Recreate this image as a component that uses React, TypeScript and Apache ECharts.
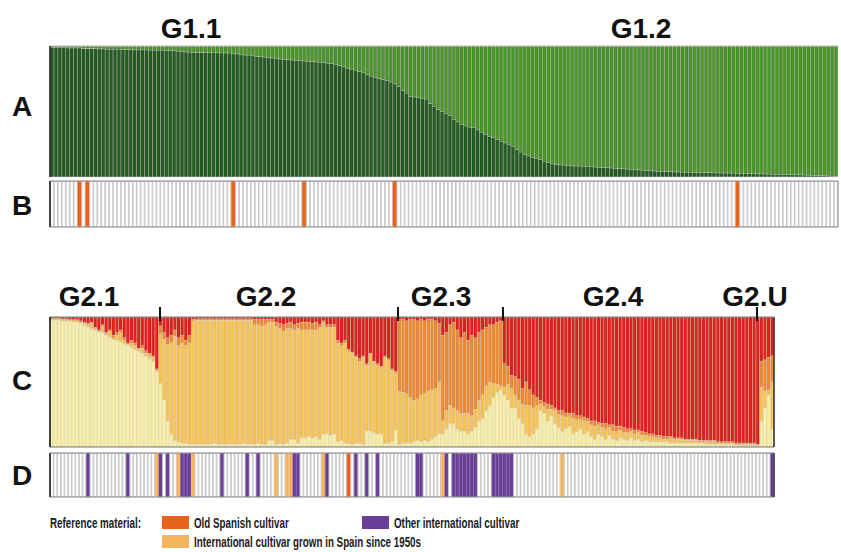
import React, { useEffect, useRef } from "react";
import * as echarts from "echarts";

const N = 200;
const sampleIds: string[] = Array.from({ length: N }, (_, i) => `S${i + 1}`);

// Panel A: membership in G1.1 (dark green); remainder is G1.2 (light green)
const darkGreenA = [
  0.99, 0.99, 0.99, 0.99, 0.985, 0.985, 0.985, 0.985, 0.98, 0.98, 0.98, 0.98, 0.978, 0.978, 0.975, 0.975, 0.975, 0.975, 0.972, 0.972,
  0.972, 0.97, 0.97, 0.97, 0.97, 0.968, 0.968, 0.968, 0.968, 0.966, 0.966, 0.966, 0.96, 0.958, 0.955, 0.952, 0.95, 0.95, 0.95, 0.95,
  0.948, 0.948, 0.948, 0.947, 0.947, 0.946, 0.94, 0.94, 0.935, 0.93, 0.93, 0.925, 0.92, 0.918, 0.915, 0.912, 0.908, 0.905, 0.9, 0.898,
  0.895, 0.892, 0.89, 0.888, 0.885, 0.882, 0.88, 0.878, 0.875, 0.872, 0.868, 0.865, 0.86, 0.85, 0.84, 0.83, 0.824, 0.815, 0.805, 0.795,
  0.78, 0.77, 0.76, 0.75, 0.743, 0.735, 0.725, 0.71, 0.69, 0.66, 0.64, 0.615, 0.61, 0.605, 0.6, 0.595, 0.56, 0.54, 0.514, 0.5,
  0.485, 0.468, 0.44, 0.42, 0.4, 0.39, 0.38, 0.376, 0.36, 0.34, 0.323, 0.31, 0.3, 0.285, 0.272, 0.26, 0.245, 0.234, 0.21, 0.19,
  0.17, 0.16, 0.15, 0.14, 0.132, 0.12, 0.109, 0.1, 0.095, 0.092, 0.09, 0.086, 0.085, 0.084, 0.083, 0.082, 0.081, 0.08, 0.075, 0.073,
  0.072, 0.07, 0.068, 0.066, 0.064, 0.062, 0.06, 0.058, 0.056, 0.054, 0.052, 0.05, 0.048, 0.045, 0.043, 0.042, 0.041, 0.04, 0.039, 0.038,
  0.037, 0.036, 0.036, 0.035, 0.035, 0.034, 0.033, 0.033, 0.032, 0.031, 0.03, 0.03, 0.03, 0.029, 0.028, 0.027, 0.027, 0.026, 0.025, 0.024,
  0.024, 0.023, 0.022, 0.021, 0.02, 0.02, 0.019, 0.018, 0.017, 0.017, 0.016, 0.015, 0.014, 0.013, 0.012, 0.01, 0.009, 0.008, 0.006, 0.005,
];

// Panel B: positions of old Spanish cultivars (reference material)
const oldSpanishB = [7, 9, 46, 64, 87, 174];

// Panel C: memberships (pale yellow = G2.1, orange = G2.3, red = G2.4; light orange G2.2 is the remainder)
const yellowC = [
  0.975, 0.975, 0.975, 0.97, 0.97, 0.97, 0.965, 0.96, 0.95, 0.94,
  0.925, 0.91, 0.9, 0.89, 0.88, 0.86, 0.846, 0.83, 0.82, 0.81,
  0.795, 0.785, 0.77, 0.75, 0.735, 0.72, 0.7, 0.68, 0.66, 0.58,
  0.49, 0.36, 0.2, 0.1, 0.05, 0.04, 0.03, 0.03, 0.02, 0.02,
  0.02, 0.02, 0.02, 0.02, 0.02, 0.03, 0.02, 0.02, 0.02, 0.02,
  0.02, 0.02, 0.02, 0.03, 0.02, 0.02, 0.02, 0.03, 0.02, 0.02,
  0.05, 0.05, 0.02, 0.03, 0.02, 0.03, 0.06, 0.06, 0.03, 0.07,
  0.07, 0.08, 0.07, 0.08, 0.06, 0.1, 0.1, 0.09, 0.1, 0.04,
  0.05, 0.03, 0.03, 0.02, 0.03, 0.03, 0.02, 0.12, 0.12, 0.11,
  0.1, 0.1, 0.03, 0.03, 0.04, 0.13, 0.02, 0.03, 0.03, 0.03,
  0.04, 0.05, 0.04, 0.05, 0.04, 0.06, 0.08, 0.1, 0.1, 0.14,
  0.18, 0.18, 0.14, 0.12, 0.12, 0.1, 0.12, 0.15, 0.2, 0.22,
  0.28, 0.32, 0.38, 0.42, 0.44, 0.4, 0.36, 0.3, 0.3, 0.22,
  0.18, 0.1, 0.08, 0.1, 0.14, 0.28, 0.26, 0.2, 0.24, 0.18,
  0.15, 0.12, 0.14, 0.16, 0.1, 0.12, 0.14, 0.1, 0.12, 0.08,
  0.06, 0.1, 0.08, 0.06, 0.09, 0.06, 0.05, 0.07, 0.06, 0.05,
  0.07, 0.05, 0.06, 0.04, 0.05, 0.04, 0.04, 0.04, 0.04, 0.04,
  0.04, 0.03, 0.03, 0.03, 0.03, 0.03, 0.03, 0.03, 0.03, 0.03,
  0.03, 0.02, 0.02, 0.02, 0.02, 0.02, 0.02, 0.02, 0.02, 0.02,
  0.02, 0.01, 0.01, 0.01, 0.01, 0.01, 0.2, 0.3, 0.4, 0.14,
];
const orangeC = [
  0, 0, 0, 0, 0, 0, 0, 0, 0.01, 0.01,
  0.01, 0.01, 0.01, 0.01, 0.01, 0.01, 0.01, 0.02, 0.02, 0.02,
  0.02, 0.01, 0.02, 0.02, 0.01, 0.02, 0.02, 0.01, 0.01, 0.01,
  0.06, 0.05, 0.05, 0.06, 0.05, 0.06, 0.06, 0.04, 0.06, 0.01,
  0.01, 0.01, 0.01, 0.01, 0.01, 0.01, 0.01, 0.01, 0.01, 0.01,
  0.01, 0.01, 0.01, 0.01, 0.01, 0.01, 0.04, 0.04, 0.05, 0.04,
  0.02, 0.02, 0.03, 0.04, 0.05, 0.04, 0.05, 0.04, 0.04, 0.06,
  0.06, 0.06, 0.05, 0.06, 0.02, 0.01, 0.02, 0.02, 0.02, 0.02,
  0.02, 0.02, 0.01, 0.01, 0.01, 0.02, 0.01, 0.01, 0.01, 0.01,
  0.01, 0.01, 0.01, 0.01, 0.01, 0.01, 0.55, 0.56, 0.56, 0.6,
  0.62, 0.6, 0.58, 0.56, 0.55, 0.54, 0.52, 0.45, 0.66, 0.6,
  0.62, 0.66, 0.62, 0.58, 0.62, 0.56, 0.62, 0.55, 0.52, 0.5,
  0.45, 0.44, 0.45, 0.48, 0.5, 0.18, 0.14, 0.1, 0.14, 0.16,
  0.12, 0.18, 0.12, 0.1, 0.06, 0.03, 0.03, 0.04, 0.03, 0.02,
  0.03, 0.04, 0.03, 0.02, 0.04, 0.03, 0.03, 0.03, 0.02, 0.03,
  0.04, 0.02, 0.03, 0.04, 0.02, 0.05, 0.04, 0.03, 0.04, 0.03,
  0.02, 0.03, 0.02, 0.03, 0.02, 0.02, 0.02, 0.02, 0.02, 0.02,
  0.02, 0.01, 0.01, 0.01, 0.01, 0.01, 0.01, 0.01, 0.01, 0.01,
  0.01, 0.01, 0.01, 0.01, 0.01, 0.01, 0.01, 0.01, 0.01, 0.01,
  0.01, 0.01, 0.01, 0.01, 0.01, 0.005, 0.2, 0.24, 0.25, 0.2,
];
const redC = [
  0.01, 0.01, 0.01, 0.015, 0.015, 0.02, 0.02, 0.02, 0.03, 0.04,
  0.05, 0.04, 0.08, 0.1, 0.06, 0.12, 0.1, 0.14, 0.12, 0.1,
  0.16, 0.2, 0.18, 0.2, 0.24, 0.22, 0.26, 0.28, 0.3, 0.4,
  0.07, 0.12, 0.16, 0.14, 0.1, 0.16, 0.14, 0.18, 0.14, 0.02,
  0.015, 0.015, 0.015, 0.015, 0.015, 0.015, 0.015, 0.015, 0.015, 0.015,
  0.015, 0.015, 0.015, 0.015, 0.015, 0.015, 0.02, 0.02, 0.02, 0.02,
  0.02, 0.02, 0.04, 0.05, 0.06, 0.05, 0.04, 0.06, 0.05, 0.04,
  0.04, 0.04, 0.05, 0.04, 0.06, 0.03, 0.06, 0.06, 0.06, 0.18,
  0.2, 0.18, 0.25, 0.27, 0.3, 0.32, 0.3, 0.36, 0.28, 0.34,
  0.36, 0.38, 0.3, 0.32, 0.4, 0.42, 0.02, 0.02, 0.03, 0.02,
  0.02, 0.03, 0.02, 0.03, 0.02, 0.02, 0.03, 0.05, 0.14, 0.12,
  0.06, 0.04, 0.1, 0.16, 0.12, 0.18, 0.14, 0.16, 0.12, 0.1,
  0.08, 0.06, 0.06, 0.04, 0.03, 0.36, 0.38, 0.45, 0.46, 0.48,
  0.55, 0.5, 0.56, 0.6, 0.62, 0.64, 0.66, 0.67, 0.68, 0.7,
  0.72, 0.72, 0.74, 0.74, 0.74, 0.76, 0.76, 0.77, 0.78, 0.8,
  0.8, 0.81, 0.82, 0.82, 0.83, 0.83, 0.84, 0.84, 0.85, 0.86,
  0.86, 0.87, 0.87, 0.88, 0.89, 0.9, 0.9, 0.91, 0.91, 0.92,
  0.92, 0.92, 0.93, 0.93, 0.93, 0.94, 0.94, 0.94, 0.94, 0.95,
  0.95, 0.95, 0.95, 0.95, 0.96, 0.96, 0.96, 0.96, 0.96, 0.97,
  0.97, 0.97, 0.97, 0.97, 0.97, 0.98, 0.34, 0.33, 0.31, 0.3,
];

// Panel D: reference material positions
const purpleD = [10, 21, 30, 32, 36, 37, 38, 47, 54, 57, 67, 68, 76, 84, 87, 90, 101, 102, 109, 111, 112, 113, 114, 115, 116, 117, 122, 123, 124, 125, 126, 127, 199];
const lightOrangeD = [29, 35, 39, 62, 65, 66, 75, 108, 141];
const oldSpanishD = [82];

// Group labels
const g1Labels = [
  { text: "G1.1", x: 191 },
  { text: "G1.2", x: 641 },
];
const g2Labels = [
  { text: "G2.1", x: 89 },
  { text: "G2.2", x: 266 },
  { text: "G2.3", x: 441 },
  { text: "G2.4", x: 613 },
  { text: "G2.U", x: 755 },
];
const g2Ticks = [160, 398, 503, 757];
const panelLetters = [
  { text: "A", y: 106 },
  { text: "B", y: 205 },
  { text: "C", y: 380 },
  { text: "D", y: 475 },
];

const C_DARKGREEN = "#245c22";
const C_LIGHTGREEN = "#4c962b";
const C_PALE = "#f7efaa";
const C_LIGHTORANGE = "#f5c35a";
const C_ORANGE = "#ec8a36";
const C_RED = "#dc231d";
const C_OLDSP = "#e8641a";
const C_INTSP = "#f5b45e";
const C_PURPLE = "#6a3f98";

const GA = { left: 50, top: 46, width: 788, height: 131 };
const GB = { left: 50, top: 181, width: 788, height: 46 };
const GC = { left: 50, top: 317, width: 724, height: 130 };
const GD = { left: 50, top: 453, width: 724, height: 44 };

function stripData(marks: { idx: number[]; color: string }[]) {
  return sampleIds.map((_, i) => {
    let color = "";
    for (const m of marks) if (m.idx.includes(i)) color = m.color;
    if (!color) return { value: 1, itemStyle: { color: "#ffffff", borderColor: "#b4b4b4", borderWidth: 0.7 } };
    return { value: 1, itemStyle: { color, borderColor: color, borderWidth: 0.5 } };
  });
}

function buildOption() {
  const lightGreenA = darkGreenA.map((v) => +(1 - v).toFixed(3));
  const lightOrangeC = yellowC.map((y, i) => Math.max(0, +(1 - y - orangeC[i] - redC[i]).toFixed(3)));
  const barBase = { type: "bar", barCategoryGap: "0%", barGap: "0%" };
  const sepA = { borderColor: "rgba(0,0,0,0.28)", borderWidth: 0.6 };
  const sepC = { borderColor: "rgba(90,60,0,0.18)", borderWidth: 0.5 };
  const grids = [GA, GB, GC, GD];

  const font = "Liberation Sans, Arial, sans-serif";

  const graphic: any[] = [];
  const bigText = (text: string, x: number, y: number) => ({
    type: "text",
    x,
    y,
    z: 100,
    style: { text, fontSize: 28, fontWeight: "bold", fontFamily: font, fill: "#111", align: "center", verticalAlign: "middle" },
  });
  g1Labels.forEach((l) => graphic.push(bigText(l.text, l.x, 28)));
  g2Labels.forEach((l) => graphic.push(bigText(l.text, l.x, 296)));
  panelLetters.forEach((l) => graphic.push(bigText(l.text, 22, l.y)));
  g2Ticks.forEach((x) => graphic.push({ type: "line", z: 100, shape: { x1: x, y1: 307, x2: x, y2: 321 }, style: { stroke: "#111", lineWidth: 2 } }));

  // frames
  graphic.push({ type: "line", z: 100, shape: { x1: GA.left, y1: GA.top, x2: GA.left + GA.width, y2: GA.top }, style: { stroke: "#bbb", lineWidth: 1 } });
  [GA, GB, GC, GD].forEach((g) =>
    graphic.push({ type: "line", z: 100, shape: { x1: g.left, y1: g.top, x2: g.left, y2: g.top + g.height }, style: { stroke: "#222", lineWidth: 1.6 } })
  );
  [GB, GD].forEach((g) =>
    graphic.push({ type: "rect", z: 99, shape: { x: g.left, y: g.top, width: g.width, height: g.height }, style: { fill: "none", stroke: "#8a8a8a", lineWidth: 1 } })
  );
  graphic.push({ type: "rect", z: 99, shape: { x: GC.left, y: GC.top, width: GC.width, height: GC.height }, style: { fill: "none", stroke: "#777", lineWidth: 1 } });
  graphic.push({ type: "line", z: 100, shape: { x1: GC.left + GC.width, y1: GC.top, x2: GC.left + GC.width, y2: GC.top + GC.height }, style: { stroke: "#333", lineWidth: 1.4 } });
  graphic.push({ type: "line", z: 100, shape: { x1: GD.left + GD.width, y1: GD.top, x2: GD.left + GD.width, y2: GD.top + GD.height }, style: { stroke: "#333", lineWidth: 1.4 } });

  // legend
  const smallText = (text: string, x: number, y: number) => ({
    type: "text",
    x,
    y,
    scaleX: 0.7,
    z: 100,
    style: { text, fontSize: 14, fontWeight: "bold", fontFamily: font, fill: "#1a1a1a", align: "left", verticalAlign: "middle" },
  });
  graphic.push(smallText("Reference material:", 50, 523));
  const legendItems = [
    { color: C_OLDSP, text: "Old Spanish cultivar", x: 162, y: 516 },
    { color: C_PURPLE, text: "Other international cultivar", x: 362, y: 516 },
    { color: C_INTSP, text: "International cultivar grown in Spain since 1950s", x: 162, y: 535 },
  ];
  legendItems.forEach((it) => {
    graphic.push({ type: "rect", z: 100, shape: { x: it.x, y: it.y, width: 27, height: 13 }, style: { fill: it.color } });
    graphic.push(smallText(it.text, it.x + 32, it.y + 7));
  });

  return {
    animation: false,
    backgroundColor: "#ffffff",
    grid: grids.map((g) => ({ ...g, containLabel: false })),
    xAxis: grids.map((_, i) => ({ type: "category", gridIndex: i, data: sampleIds, show: false })),
    yAxis: grids.map((_, i) => ({ type: "value", gridIndex: i, min: 0, max: 1, show: false })),
    series: [
      { ...barBase, name: "G1.1", xAxisIndex: 0, yAxisIndex: 0, stack: "A", data: darkGreenA, itemStyle: { color: C_DARKGREEN, ...sepA } },
      { ...barBase, name: "G1.2", xAxisIndex: 0, yAxisIndex: 0, stack: "A", data: lightGreenA, itemStyle: { color: C_LIGHTGREEN, ...sepA } },
      { ...barBase, name: "B", xAxisIndex: 1, yAxisIndex: 1, data: stripData([{ idx: oldSpanishB, color: C_OLDSP }]) },
      { ...barBase, name: "G2.1", xAxisIndex: 2, yAxisIndex: 2, stack: "C", data: yellowC, itemStyle: { color: C_PALE, ...sepC } },
      { ...barBase, name: "G2.2", xAxisIndex: 2, yAxisIndex: 2, stack: "C", data: lightOrangeC, itemStyle: { color: C_LIGHTORANGE, ...sepC } },
      { ...barBase, name: "G2.3", xAxisIndex: 2, yAxisIndex: 2, stack: "C", data: orangeC, itemStyle: { color: C_ORANGE, ...sepC } },
      { ...barBase, name: "G2.4", xAxisIndex: 2, yAxisIndex: 2, stack: "C", data: redC, itemStyle: { color: C_RED, ...sepC } },
      {
        ...barBase,
        name: "D",
        xAxisIndex: 3,
        yAxisIndex: 3,
        data: stripData([
          { idx: purpleD, color: C_PURPLE },
          { idx: lightOrangeD, color: C_INTSP },
          { idx: oldSpanishD, color: C_OLDSP },
        ]),
      },
    ],
    graphic,
  };
}

export default function App() {
  const ref = useRef<HTMLDivElement>(null);
  useEffect(() => {
    const chart = echarts.init(ref.current!, null, { renderer: "svg" });
    chart.setOption(buildOption() as any);
    return () => chart.dispose();
  }, []);
  return <div ref={ref} style={{ position: "fixed", left: 0, top: 0, width: 841, height: 552, background: "#fff" }} />;
}
